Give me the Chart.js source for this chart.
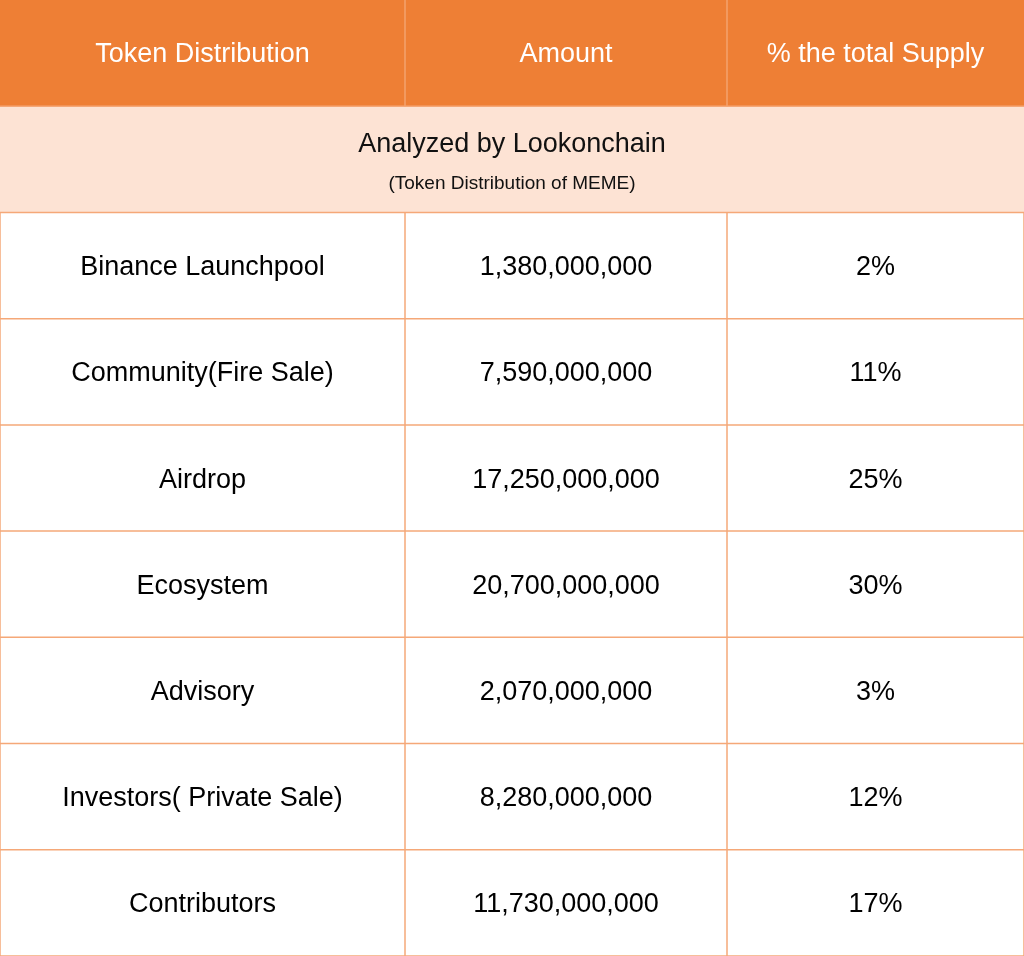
<!DOCTYPE html>
<html><head><meta charset="utf-8">
<script src="https://cdn.jsdelivr.net/npm/chart.js@4/dist/chart.umd.min.js"></script>
<style>html,body{margin:0;padding:0;background:#fff;font-family:'Liberation Sans'}#w{width:1024px;height:956px}</style>
</head><body><div id="w"><canvas id="c"></canvas></div>
<span style="font-family:'Liberation Sans';position:absolute;left:-999px">.</span>
<script>
const headers = ["Token Distribution", "Amount", "% the total Supply"];
const title = "Analyzed by Lookonchain";
const subtitle = "(Token Distribution of MEME)";
const categories = ["Binance Launchpool","Community(Fire Sale)","Airdrop","Ecosystem","Advisory","Investors( Private Sale)","Contributors"];
const amounts = ["1,380,000,000","7,590,000,000","17,250,000,000","20,700,000,000","2,070,000,000","8,280,000,000","11,730,000,000"];
const percents = ["2%","11%","25%","30%","3%","12%","17%"];
const colEdges = [0, 405, 727, 1024];

const font = "'Liberation Sans', 'DejaVu Sans', sans-serif";
const tablePlugin = {
  id: 'table',
  afterDraw(chart) {
    const ctx = chart.ctx, x = chart.scales.x, y = chart.scales.y;
    const nRows = categories.length + 2;
    const X = v => x.getPixelForValue(v), Y = v => y.getPixelForValue(v);
    const L = X(colEdges[0]), R = X(colEdges[3]);
    ctx.save();
    ctx.fillStyle = '#EE7F35'; ctx.fillRect(L, Y(0), R - L, Y(1) - Y(0));
    ctx.fillStyle = '#FDE3D4'; ctx.fillRect(L, Y(1), R - L, Y(2) - Y(1));
    ctx.lineWidth = 1.5;
    ctx.strokeStyle = '#F5A878';
    for (let r = 1; r <= nRows; r++) { ctx.beginPath(); ctx.moveTo(L, Y(r)); ctx.lineTo(R, Y(r)); ctx.stroke(); }
    for (let c = 0; c < colEdges.length; c++) {
      ctx.beginPath(); ctx.moveTo(X(colEdges[c]), Y(2)); ctx.lineTo(X(colEdges[c]), Y(nRows)); ctx.stroke();
    }
    ctx.strokeStyle = '#F3A26E';
    for (let c = 1; c < 3; c++) { ctx.beginPath(); ctx.moveTo(X(colEdges[c]), Y(0)); ctx.lineTo(X(colEdges[c]), Y(1)); ctx.stroke(); }
    ctx.textAlign = 'center'; ctx.textBaseline = 'middle';
    const mid = (c) => (X(colEdges[c]) + X(colEdges[c + 1])) / 2;
    ctx.fillStyle = '#fff'; ctx.font = '27px ' + font;
    headers.forEach((h, c) => ctx.fillText(h, mid(c), Y(0.51)));
    ctx.fillStyle = '#111'; ctx.font = '27px ' + font;
    ctx.fillText(title, (L + R) / 2, Y(1.36));
    ctx.font = '19px ' + font;
    ctx.fillText(subtitle, (L + R) / 2, Y(1.73));
    ctx.fillStyle = '#000'; ctx.font = '27px ' + font;
    categories.forEach((cat, i) => {
      const yy = Y(i + 2.52);
      ctx.fillText(cat, mid(0), yy);
      ctx.fillText(amounts[i], mid(1), yy);
      ctx.fillText(percents[i], mid(2), yy);
    });
    ctx.restore();
  }
};

function draw() {
  new Chart(document.getElementById('c'), {
    type: 'scatter',
    data: { datasets: [{ data: [], pointRadius: 0 }] },
    options: {
      responsive: true, maintainAspectRatio: false, animation: false,
      layout: { padding: 0 },
      plugins: { legend: { display: false }, tooltip: { enabled: false } },
      scales: {
        x: { type: 'linear', min: colEdges[0], max: colEdges[3], display: false },
        y: { type: 'linear', min: 0, max: categories.length + 2, reverse: true, display: false }
      }
    },
    plugins: [tablePlugin]
  });
}
Promise.all([document.fonts.load("27px 'Liberation Sans'"), document.fonts.ready]).then(draw, draw);
</script></body></html>
